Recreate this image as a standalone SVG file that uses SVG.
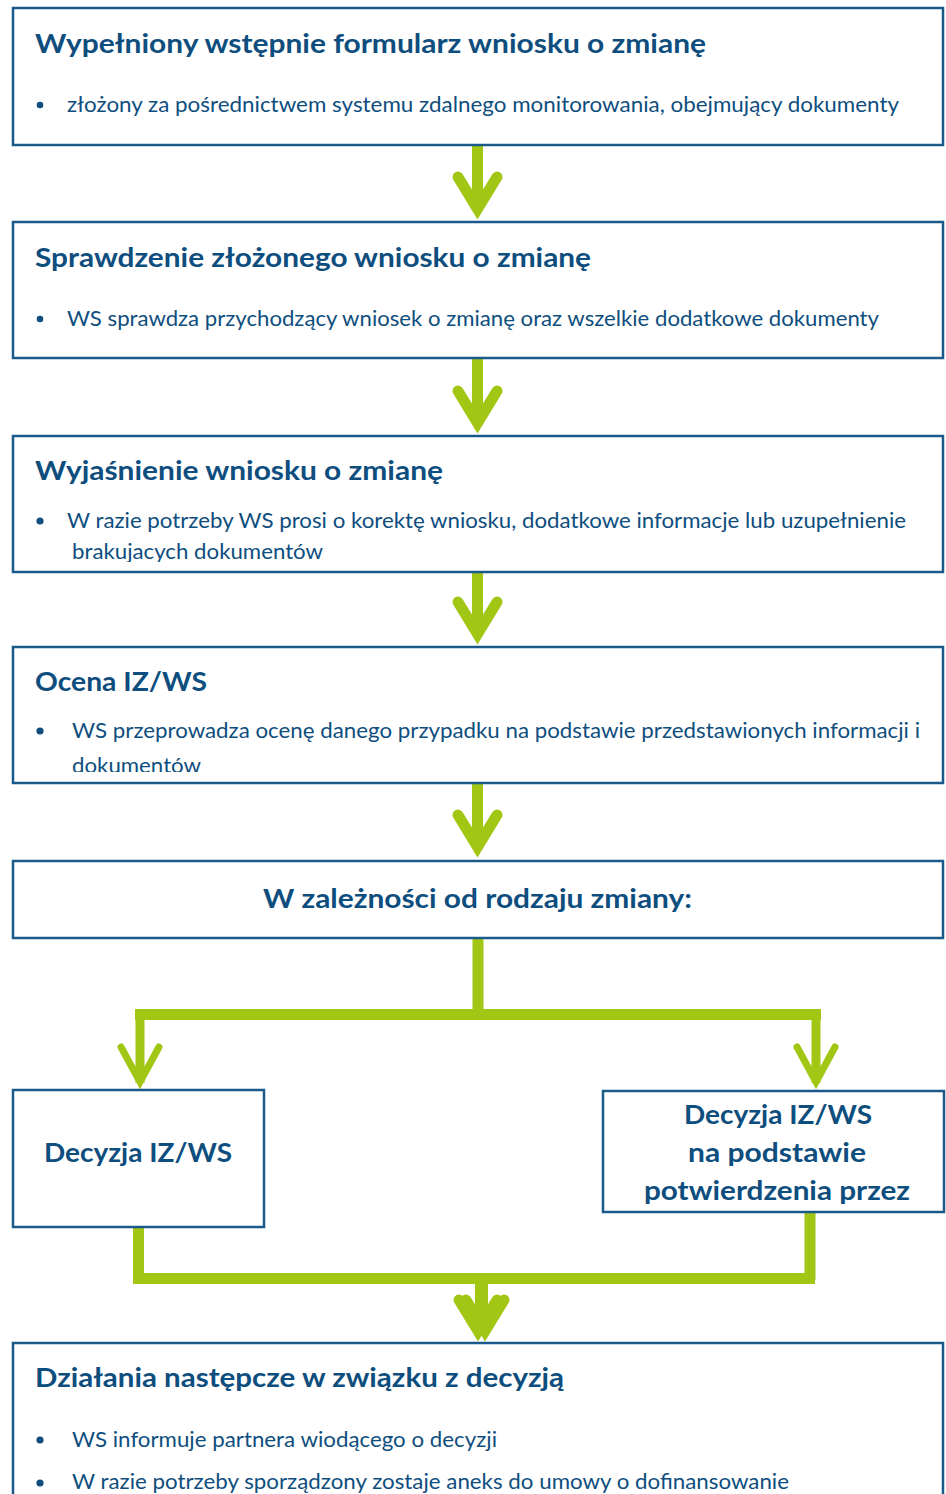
<svg xmlns="http://www.w3.org/2000/svg" width="946" height="1494" viewBox="0 0 946 1494">
  <style>
    .box { fill: #ffffff; stroke: #1a5a8a; stroke-width: 2.5; }
    .title { font-family: Lato, "Open Sans", "Liberation Sans", sans-serif; font-weight: 700; font-size: 27px; fill: #0e4e7e; }
    .dec { font-family: Lato, "Open Sans", "Liberation Sans", sans-serif; font-weight: 700; font-size: 27px; fill: #0e4e7e; text-anchor: middle; }
    .body { font-family: Lato, "Open Sans", "Liberation Sans", sans-serif; font-weight: 400; font-size: 21px; fill: #0e4e7e; }
    .dot { fill: #0e4e7e; }
    .shaft { stroke: #a2c614; fill: none; stroke-linecap: butt; }
    .head { stroke: #a2c614; fill: none; stroke-width: 11; stroke-linecap: round; stroke-linejoin: miter; stroke-miterlimit: 10; }
    .headS { stroke: #a2c614; fill: none; stroke-width: 7; stroke-linecap: round; stroke-linejoin: miter; stroke-miterlimit: 10; }
    .bar { fill: #a2c614; }
  </style>
  <defs>
    <clipPath id="clip3"><rect x="14" y="437" width="928" height="125"/></clipPath>
    <clipPath id="clip4"><rect x="14" y="648" width="928" height="124"/></clipPath>
  </defs>

  <rect width="946" height="1494" fill="#ffffff"/>

  <!-- connectors -->
  <g id="connectors">
    <!-- straight arrows between stacked steps -->
    <line class="shaft" x1="477.5" y1="145" x2="477.5" y2="210" stroke-width="11"/>
    <polyline class="head" points="458,177 477.5,209 497,177"/>

    <line class="shaft" x1="477.5" y1="358" x2="477.5" y2="424" stroke-width="11"/>
    <polyline class="head" points="458,391 477.5,423 497,391"/>

    <line class="shaft" x1="477.5" y1="572" x2="477.5" y2="635" stroke-width="11"/>
    <polyline class="head" points="458,602 477.5,634 497,602"/>

    <line class="shaft" x1="477.5" y1="783" x2="477.5" y2="848" stroke-width="11"/>
    <polyline class="head" points="458,815 477.5,847 497,815"/>

    <!-- split into two branches -->
    <line class="shaft" x1="478" y1="938" x2="478" y2="1012" stroke-width="11"/>
    <rect class="bar" x="135" y="1009" width="686" height="11"/>
    <line class="shaft" x1="140" y1="1015" x2="140" y2="1083" stroke-width="9"/>
    <polyline class="headS" points="121,1047 140,1082 159,1047"/>
    <line class="shaft" x1="816" y1="1015" x2="816" y2="1083" stroke-width="9"/>
    <polyline class="headS" points="797,1047 816,1082 835,1047"/>

    <!-- merge of both branches -->
    <line class="shaft" x1="138.5" y1="1227" x2="138.5" y2="1280" stroke-width="11"/>
    <line class="shaft" x1="810" y1="1212" x2="810" y2="1280" stroke-width="11"/>
    <rect class="bar" x="133" y="1273" width="682" height="11"/>
    <line class="shaft" x1="481.5" y1="1280" x2="481.5" y2="1328" stroke-width="13"/>
    <polyline class="head" points="459,1300 478,1331 497,1300"/>
    <polyline class="head" points="466,1300 485,1331 504,1300"/>
  </g>

  <!-- step 1 -->
  <g id="step1">
    <rect class="box" x="13" y="8" width="930" height="137"/>
    <text class="title" x="35" y="53" textLength="671" lengthAdjust="spacingAndGlyphs">Wypełniony wstępnie formularz wniosku o zmianę</text>
    <circle class="dot" cx="40" cy="105" r="3.3"/>
    <text class="body" x="67" y="112" textLength="832" lengthAdjust="spacingAndGlyphs">złożony za pośrednictwem systemu zdalnego monitorowania, obejmujący dokumenty</text>
  </g>

  <!-- step 2 -->
  <g id="step2">
    <rect class="box" x="13" y="222" width="930" height="136"/>
    <text class="title" x="35" y="267" textLength="556" lengthAdjust="spacingAndGlyphs">Sprawdzenie złożonego wniosku o zmianę</text>
    <circle class="dot" cx="40" cy="319" r="3.3"/>
    <text class="body" x="67" y="326" textLength="812" lengthAdjust="spacingAndGlyphs">WS sprawdza przychodzący wniosek o zmianę oraz wszelkie dodatkowe dokumenty</text>
  </g>

  <!-- step 3 -->
  <g id="step3">
    <rect class="box" x="13" y="436" width="930" height="136"/>
    <text class="title" x="35" y="480" textLength="408" lengthAdjust="spacingAndGlyphs">Wyjaśnienie wniosku o zmianę</text>
    <circle class="dot" cx="40" cy="521" r="3.6"/>
    <g clip-path="url(#clip3)">
      <text class="body" x="67" y="528" textLength="839" lengthAdjust="spacingAndGlyphs">W razie potrzeby WS prosi o korektę wniosku, dodatkowe informacje lub uzupełnienie</text>
      <text class="body" x="72" y="559" textLength="251" lengthAdjust="spacingAndGlyphs">brakujacych dokumentów</text>
    </g>
  </g>

  <!-- step 4 -->
  <g id="step4">
    <rect class="box" x="13" y="647" width="930" height="136"/>
    <text class="title" x="35" y="691" textLength="172" lengthAdjust="spacingAndGlyphs">Ocena IZ/WS</text>
    <circle class="dot" cx="40" cy="731" r="3.6"/>
    <g clip-path="url(#clip4)">
      <text class="body" x="72" y="738" textLength="848" lengthAdjust="spacingAndGlyphs">WS przeprowadza ocenę danego przypadku na podstawie przedstawionych informacji i</text>
      <text class="body" x="72" y="773" textLength="129" lengthAdjust="spacingAndGlyphs">dokumentów</text>
    </g>
  </g>

  <!-- step 5 -->
  <g id="step5">
    <rect class="box" x="13" y="861" width="930" height="77"/>
    <text class="dec" x="477.5" y="908" textLength="429" lengthAdjust="spacingAndGlyphs">W zależności od rodzaju zmiany:</text>
  </g>

  <!-- decision A -->
  <g id="decisionA">
    <rect class="box" x="13" y="1090" width="251" height="137"/>
    <text class="dec" x="138" y="1162" textLength="188" lengthAdjust="spacingAndGlyphs">Decyzja IZ/WS</text>
  </g>

  <!-- decision B -->
  <g id="decisionB">
    <rect class="box" x="603" y="1091" width="341" height="121"/>
    <text class="dec" x="778" y="1124" textLength="188" lengthAdjust="spacingAndGlyphs">Decyzja IZ/WS</text>
    <text class="dec" x="777" y="1162" textLength="178" lengthAdjust="spacingAndGlyphs">na podstawie</text>
    <text class="dec" x="777" y="1200" textLength="266" lengthAdjust="spacingAndGlyphs">potwierdzenia przez</text>
  </g>

  <!-- follow-up -->
  <g id="followup">
    <rect class="box" x="13" y="1343" width="930" height="180"/>
    <text class="title" x="35" y="1387" textLength="529" lengthAdjust="spacingAndGlyphs">Działania następcze w związku z decyzją</text>
    <circle class="dot" cx="40" cy="1440" r="3.6"/>
    <text class="body" x="72" y="1447" textLength="425" lengthAdjust="spacingAndGlyphs">WS informuje partnera wiodącego o decyzji</text>
    <circle class="dot" cx="40" cy="1483" r="3.6"/>
    <text class="body" x="72" y="1489" textLength="717" lengthAdjust="spacingAndGlyphs">W razie potrzeby sporządzony zostaje aneks do umowy o dofinansowanie</text>
  </g>
</svg>
